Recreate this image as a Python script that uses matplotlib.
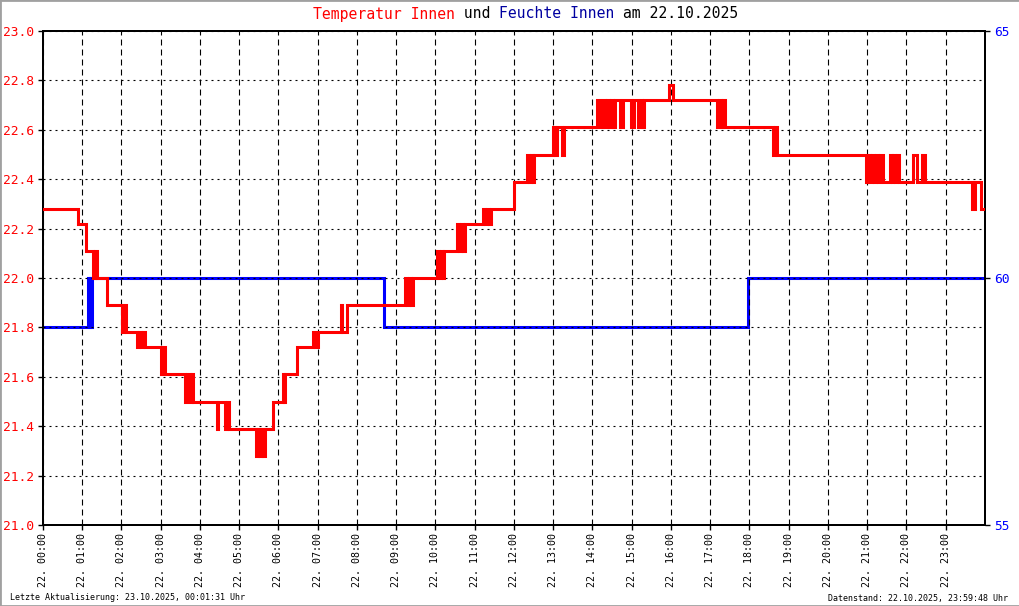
import matplotlib
matplotlib.use("Agg")
import matplotlib.pyplot as plt
from matplotlib.patches import Rectangle

# Temperatur Innen (Stufenwerte, Aenderungszeitpunkte in Stunden)
temp_time = [0.00, 0.89, 1.10, 1.27, 1.32, 1.38, 1.63, 2.01, 2.06, 2.11,
             2.39, 2.45, 2.50, 2.55, 2.60, 3.01, 3.06, 3.11, 3.62, 3.67,
             3.75, 3.80, 3.82, 4.43, 4.46, 4.64, 4.69, 4.74, 5.43, 5.48,
             5.50, 5.58, 5.60, 5.66, 5.86, 6.11, 6.14, 6.17, 6.47, 6.88,
             6.93, 7.01, 7.59, 7.61, 7.75, 9.22, 9.27, 9.32, 9.38, 9.43,
             10.04, 10.09, 10.14, 10.19, 10.22, 10.55, 10.60, 10.65, 10.70, 10.75,
             11.21, 11.27, 11.31, 11.36, 11.41, 12.00, 12.33, 12.38, 12.43, 12.48,
             12.50, 12.99, 13.04, 13.10, 13.22, 13.27, 14.11, 14.19, 14.27, 14.32,
             14.37, 14.42, 14.47, 14.52, 14.57, 14.70, 14.78, 14.98, 15.06, 15.16,
             15.24, 15.26, 15.31, 15.95, 16.05, 17.17, 17.22, 17.27, 17.32, 17.38,
             18.60, 18.65, 18.70, 20.97, 21.02, 21.07, 21.12, 21.17, 21.22, 21.27,
             21.32, 21.39, 21.58, 21.63, 21.66, 21.71, 21.76, 21.81, 22.17, 22.27,
             22.39, 22.47, 23.67, 23.75, 23.90, 24.00]
temp_val = [22.28, 22.22, 22.11, 22.00, 22.11, 22.00, 21.89, 21.78, 21.89, 21.78,
            21.72, 21.78, 21.72, 21.78, 21.72, 21.61, 21.72, 21.61, 21.50, 21.61,
            21.50, 21.61, 21.50, 21.39, 21.50, 21.39, 21.50, 21.39, 21.28, 21.39,
            21.28, 21.39, 21.28, 21.39, 21.50, 21.61, 21.50, 21.61, 21.72, 21.78,
            21.72, 21.78, 21.89, 21.78, 21.89, 22.00, 21.89, 22.00, 21.89, 22.00,
            22.11, 22.00, 22.11, 22.00, 22.11, 22.22, 22.11, 22.22, 22.11, 22.22,
            22.28, 22.22, 22.28, 22.22, 22.28, 22.39, 22.50, 22.39, 22.50, 22.39,
            22.50, 22.61, 22.50, 22.61, 22.50, 22.61, 22.72, 22.61, 22.72, 22.61,
            22.72, 22.61, 22.72, 22.61, 22.72, 22.61, 22.72, 22.61, 22.72, 22.61,
            22.72, 22.61, 22.72, 22.78, 22.72, 22.61, 22.72, 22.61, 22.72, 22.61,
            22.50, 22.61, 22.50, 22.39, 22.50, 22.39, 22.50, 22.39, 22.50, 22.39,
            22.50, 22.39, 22.50, 22.39, 22.50, 22.39, 22.50, 22.39, 22.50, 22.39,
            22.50, 22.39, 22.28, 22.39, 22.28, 22.28]

# Feuchte Innen
hum_time = [0.00, 1.15, 1.18, 1.20, 1.23, 1.25, 8.69, 17.96, 24.00]
hum_val = [59, 60, 59, 60, 59, 60, 59, 60, 60]

hours = list(range(24))
hour_labels = ["22. %02d:00" % h for h in hours]
temp_ticks = [21.0, 21.2, 21.4, 21.6, 21.8, 22.0, 22.2, 22.4, 22.6, 22.8, 23.0]
hum_ticks = [55, 60, 65]

plt.rcParams["lines.scale_dashes"] = False
plt.rcParams["font.family"] = ["DejaVu Sans Mono"]

W, H = 1020, 606
fig = plt.figure(figsize=(W / 100, H / 100), dpi=100)
ax = fig.add_axes([43 / W, (H - 525) / H, 942 / W, 494 / H])
ax2 = ax.twinx()

ax.step(temp_time, temp_val, where="post", color="#ff0000", lw=2.2,
        solid_joinstyle="miter", zorder=3)
ax2.step(hum_time, hum_val, where="post", color="#0000ff", lw=2.2,
         solid_joinstyle="miter")

# red above blue, grid above blue
ax.set_zorder(2)
ax.patch.set_visible(False)
ax2.set_zorder(1)

ax.set_xlim(0, 24)
ax.set_ylim(21, 23)
ax2.set_ylim(55, 65)

ax.set_xticks(hours)
ax.set_xticklabels(hour_labels, rotation=90, fontsize=7.2, va="top", ha="center")
ax.set_yticks(temp_ticks)
ax.set_yticklabels(["%.1f" % t for t in temp_ticks], fontsize=9.3, color="#ff0000")
ax2.set_yticks(hum_ticks)
ax2.set_yticklabels([str(t) for t in hum_ticks], fontsize=9.3, color="#0000ff")

ax.yaxis.grid(True, linestyle=(0, (1.44, 2.88)), color="black", lw=0.8)
ax.xaxis.grid(True, linestyle=(0, (4.3, 2.9)), color="black", lw=0.8)

ax.tick_params(axis="both", direction="out", length=3.6, width=1, pad=3)
ax.tick_params(axis="x", pad=2)
ax2.tick_params(axis="y", direction="out", length=3.6, width=1, pad=3)
for a in (ax, ax2):
    for s in a.spines.values():
        s.set_linewidth(1.4)

# title, coloured pieces
parts = [("Temperatur Innen", "#ff0000"), (" und ", "black"),
         ("Feuchte Innen", "#0000a0"), (" am 22.10.2025", "black")]
cw = 0.602 * 10.6 * 100 / 72
x0 = 313
for txt, col in parts:
    fig.text(x0 / W, 1 - 14 / H, txt, color=col, fontsize=10.6, ha="left", va="center")
    x0 += len(txt) * cw

fig.text(10 / W, 1 - 598 / H, "Letzte Aktualisierung: 23.10.2025, 00:01:31 Uhr",
         fontsize=6, ha="left", va="center")
fig.text(1008 / W, 1 - 598 / H, "Datenstand: 22.10.2025, 23:59:48 Uhr",
         fontsize=6, ha="right", va="center")

fig.patches.append(Rectangle((0, 0), 1, 1, transform=fig.transFigure, fill=False,
                             edgecolor="#a0a0a0", lw=2))

fig.savefig("out.png", dpi=100)
